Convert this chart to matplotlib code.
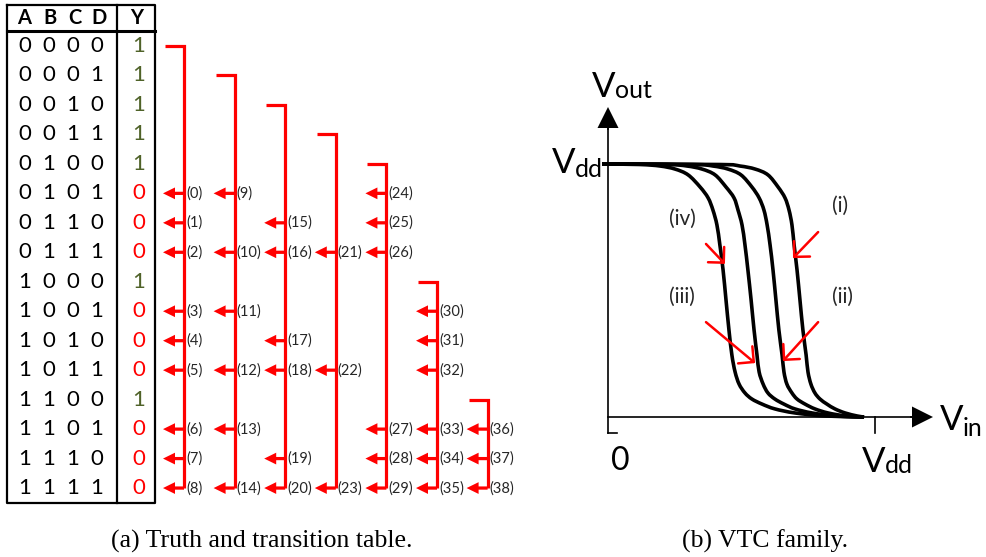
import numpy as np
import matplotlib
matplotlib.use('Agg')
import matplotlib.pyplot as plt
from matplotlib.path import Path
from matplotlib.patches import PathPatch

plt.rcParams.update({'font.family': ['Lato', 'DejaVu Sans']})

RED, GREEN, INK = '#ff0000', '#4f6228', '#262626'

# truth table of the gate
inputs = ['0000', '0001', '0010', '0011', '0100', '0101', '0110', '0111',
          '1000', '1001', '1010', '1011', '1100', '1101', '1110', '1111']
outputs = [1, 1, 1, 1, 1, 0, 0, 0, 1, 0, 0, 0, 1, 0, 0, 0]
header = ['A', 'B', 'C', 'D']

# each '1' row fans out to the '0' rows it can switch into
bracket_rows = [0, 1, 2, 3, 4, 8, 12]
transition_rows = [[5, 6, 7, 9, 10, 11, 13, 14, 15],
                   [5, 7, 9, 11, 13, 15],
                   [6, 7, 10, 11, 14, 15],
                   [7, 11, 15],
                   [5, 6, 7, 13, 14, 15],
                   [9, 10, 11, 13, 14, 15],
                   [13, 14, 15]]

# VTC family, Vin read at shared Vout levels (both normalised to Vdd)
vout_levels = [1.0, 0.998, 0.992, 0.980, 0.957, 0.909, 0.866, 0.818, 0.759, 0.680, 0.581, 0.462,
               0.344, 0.245, 0.178, 0.130, 0.095, 0.071, 0.051, 0.032, 0.016, 0.004, 0.0]
vin_i = [-0.022, 0.419, 0.494, 0.551, 0.599, 0.637, 0.663, 0.678, 0.689, 0.697, 0.708, 0.719,
         0.730, 0.742, 0.749, 0.760, 0.775, 0.794, 0.820, 0.850, 0.888, 0.933, 0.959]
vin_ii = [-0.022, 0.318, 0.393, 0.449, 0.498, 0.539, 0.566, 0.584, 0.596, 0.607, 0.618, 0.629,
          0.640, 0.652, 0.659, 0.670, 0.689, 0.708, 0.738, 0.775, 0.824, 0.891, 0.959]
vin_iii = [-0.022, 0.221, 0.296, 0.352, 0.401, 0.442, 0.472, 0.487, 0.502, 0.513, 0.524, 0.536,
           0.547, 0.558, 0.566, 0.581, 0.599, 0.625, 0.659, 0.700, 0.764, 0.854, 0.959]
vin_iv = [-0.022, 0.120, 0.195, 0.251, 0.300, 0.345, 0.375, 0.393, 0.408, 0.419, 0.431, 0.442,
          0.453, 0.464, 0.476, 0.491, 0.513, 0.539, 0.577, 0.625, 0.700, 0.813, 0.959]
curve_labels = ['(i)', '(ii)', '(iii)', '(iv)']
label_pos = [(0.869, 0.834), (0.880, 0.474), (0.277, 0.474), (0.277, 0.783)]
# pointer arrows (tail, tip) for each label
pointer = [((0.787, 0.731), (0.693, 0.628)),
           ((0.787, 0.375), (0.655, 0.221)),
           ((0.367, 0.375), (0.551, 0.213)),
           ((0.367, 0.684), (0.438, 0.605))]


def smooth_path(xs, ys):
    # cubic Bezier through the points (Catmull-Rom tangents)
    p = np.column_stack([xs, ys])
    verts, codes = [p[0]], [Path.MOVETO]
    for i in range(len(p) - 1):
        p0 = p[max(i - 1, 0)]
        p1, p2 = p[i], p[i + 1]
        p3 = p[min(i + 2, len(p) - 1)]
        verts += [p1 + (p2 - p0) / 6, p2 - (p3 - p1) / 6, p2]
        codes += [Path.CURVE4] * 3
    return Path(verts, codes)


W, H = 987, 557
fig = plt.figure(figsize=(W / 100, H / 100), dpi=100)

# ---------- (a) truth / transition table ----------
ROW0, STEP = 46, 29.47          # pixel centre of row 0 and row pitch


def row_of(px):
    return (px - ROW0) / STEP


ax = fig.add_axes([0, 0, 530 / W, 1])
ax.set_xlim(0, 530)
ax.set_ylim(row_of(H), row_of(0))
ax.axis('off')

top, hdr, bot = row_of(5), row_of(30.5), row_of(503)
ax.plot([7, 155, 155, 7, 7], [top, top, bot, bot, top], color='k', lw=1.6)
ax.plot([117, 117], [top, bot], color='k', lw=1.6)
ax.plot([7, 155], [hdr, hdr], color='k', lw=2.2)

col_x = [25, 49, 73, 97]
head_x = [24, 50, 75, 99]
for hx, name in zip(head_x, header):
    ax.text(hx, row_of(18), name, ha='center', va='center', fontsize=14.5, fontweight='bold')
ax.text(137, row_of(18), 'Y', ha='center', va='center', fontsize=14.5, fontweight='bold')

for r, (bits, y) in enumerate(zip(inputs, outputs)):
    for cx, b in zip(col_x, bits):
        ax.text(cx, r, b, ha='center', va='center', fontsize=16, color='k')
    ax.text(139, r, str(y), ha='center', va='center', fontsize=16,
            color=GREEN if y else RED)

k = 0
for g, (start, rows) in enumerate(zip(bracket_rows, transition_rows)):
    v = 184 + 50.6 * g
    ax.plot([v - 19, v, v], [start, start, rows[-1]], color=RED, lw=2.3,
            solid_joinstyle='miter', solid_capstyle='butt')
    for r in rows:
        ax.arrow(v, r, -21, 0, width=0.11, head_width=0.40, head_length=12,
                 length_includes_head=True, fc=RED, ec='none', lw=0)
        ax.text(v + 2, r, f'({k})', ha='left', va='center', fontsize=10.5, color=INK)
        k += 1

# ---------- (b) VTC family ----------
X0, XS = 608, 267               # Vin = 0 pixel and pixels per Vdd
Y0, YS = 417, 253               # Vout = 0 pixel and pixels per Vdd
bx = fig.add_axes([540 / W, (H - 500) / H, 447 / W, 440 / H])
bx.set_xlim((540 - X0) / XS, (987 - X0) / XS)
bx.set_ylim((Y0 - 500) / YS, (Y0 - 60) / YS)
bx.axis('off')

lo = (Y0 - 433) / YS
bx.plot([0, 0], [lo, (Y0 - 128) / YS], color='k', lw=1.2)
bx.plot([0, 9 / XS], [lo, lo], color='k', lw=1.2)
bx.arrow(0, (Y0 - 130) / YS, 0, 23 / YS, width=1.6 / XS, head_width=21 / XS,
         head_length=21 / YS, length_includes_head=True, fc='k', ec='none', lw=0)
bx.plot([0, (912 - X0) / XS], [0, 0], color='k', lw=1.2)
bx.arrow((910 - X0) / XS, 0, 23 / XS, 0, width=1.6 / YS, head_width=21 / YS,
         head_length=21 / XS, length_includes_head=True, fc='k', ec='none', lw=0)
bx.plot([1, 1], [0, lo], color='k', lw=1.2)

for vin in [vin_i, vin_ii, vin_iii, vin_iv]:
    bx.add_patch(PathPatch(smooth_path(vin, vout_levels), fc='none', ec='k', lw=2.6,
                           capstyle='butt', joinstyle='round'))

for lab, (lx, ly) in zip(curve_labels, label_pos):
    bx.text(lx, ly, lab, ha='center', va='center', fontsize=15, color=INK)
for tail, tip in pointer:
    bx.annotate('', xy=tip, xytext=tail,
                arrowprops=dict(arrowstyle='->,head_length=0.4,head_width=0.4',
                                color=RED, lw=1.8, shrinkA=0, shrinkB=0,
                                mutation_scale=20))


def vlabel(x, y, sub, dy=1):
    # big V with a near-inline subscript, positioned in pixels
    fig.text(x / W, 1 - y / H, 'V', fontsize=25, va='baseline', ha='left')
    fig.text((x + 23) / W, 1 - (y + dy) / H, sub, fontsize=18, va='baseline', ha='left')


vlabel(592, 97, 'out')
vlabel(552, 173, 'dd', 4)
vlabel(940, 430, 'in', 6)
vlabel(862, 472, 'dd', 1)
fig.text(620 / W, 1 - 470 / H, '0', fontsize=23, ha='center', va='baseline')

fig.text(262 / W, 1 - 541 / H, '(a) Truth and transition table.', ha='center', va='center',
         family='Liberation Serif', fontsize=18.5)
fig.text(765 / W, 1 - 541 / H, '(b) VTC family.', ha='center', va='center',
         family='Liberation Serif', fontsize=18.5)

fig.savefig('out.png', dpi=100)
